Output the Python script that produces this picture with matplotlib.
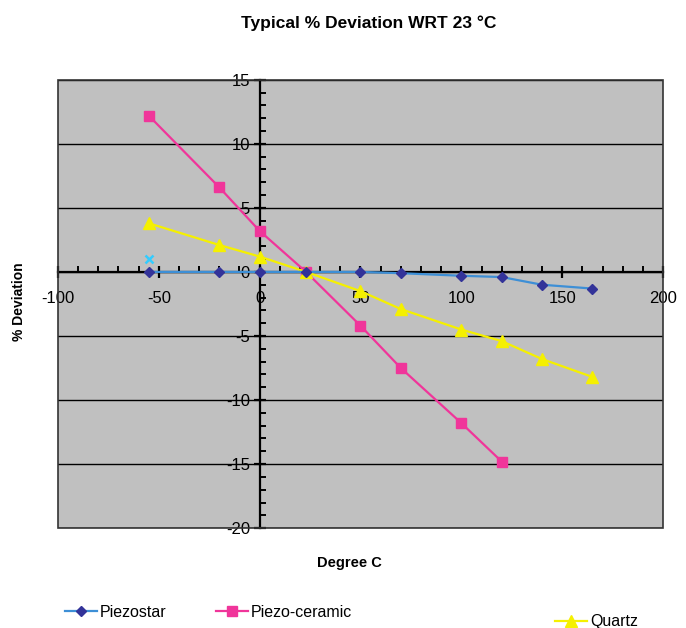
#!/usr/bin/env python3
import matplotlib
matplotlib.use("Agg")
import matplotlib.pyplot as plt
from matplotlib.patches import Rectangle
from matplotlib.ticker import MultipleLocator, FuncFormatter

plt.rcParams["font.family"] = ["Liberation Sans", "DejaVu Sans"]
plt.rcParams["axes.unicode_minus"] = False

# --------------------------------------------------------------------
# Data
# --------------------------------------------------------------------
TEMPS = [-55, -20, 0, 23, 50, 70, 100, 120, 140, 165]
PIEZOSTAR = [0.0, 0.0, 0.0, 0.0, 0.0, -0.1, -0.3, -0.4, -1.0, -1.3]

CERAMIC_TEMPS = [-55, -20, 0, 23, 50, 70, 100, 120]
PIEZO_CERAMIC = [12.2, 6.6, 3.2, 0.0, -4.2, -7.5, -11.8, -14.8]

QUARTZ = [3.8, 2.1, 1.2, 0.0, -1.5, -2.9, -4.5, -5.4, -6.8, -8.2]

STRAY_X = [-55]
STRAY_Y = [1.0]

# --------------------------------------------------------------------
# Plot
# --------------------------------------------------------------------
fig = plt.figure(figsize=(6.86, 6.28), dpi=100)
ax = fig.add_axes([0.0845, 0.159, 0.882, 0.714])
ax.set_facecolor("#C0C0C0")

ax.set_xlim(-100, 200)
ax.set_ylim(-20, 15)

for yv in range(-20, 16, 5):
    ax.axhline(yv, color="black", lw=1.0, zorder=1)

l1, = ax.plot(TEMPS, PIEZOSTAR, color="#3D8FD6", lw=1.6, marker="D",
              markersize=5, markerfacecolor="#333399", markeredgecolor="#333399",
              label="Piezostar", zorder=4)
l2, = ax.plot(CERAMIC_TEMPS, PIEZO_CERAMIC, color="#F0359A", lw=1.6, marker="s",
              markersize=7, markerfacecolor="#F0359A", markeredgecolor="#F0359A",
              label="Piezo-ceramic", zorder=3)
l3, = ax.plot(TEMPS, QUARTZ, color="#F5F000", lw=1.6, marker="^",
              markersize=8, markerfacecolor="#F5F000", markeredgecolor="#F5F000",
              label="Quartz", zorder=3)
ax.plot(STRAY_X, STRAY_Y, linestyle="none", marker="x", color="#33CCFF",
        markersize=6, mew=1.8, zorder=4)

# axes crossing at the origin
for side in ["top", "right"]:
    ax.spines[side].set_visible(False)
ax.spines["left"].set_position(("data", 0))
ax.spines["bottom"].set_position(("data", 0))
ax.spines["left"].set_linewidth(1.6)
ax.spines["bottom"].set_linewidth(1.6)
ax.spines["left"].set_zorder(2)
ax.spines["bottom"].set_zorder(2)

ax.xaxis.set_major_locator(MultipleLocator(50))
ax.xaxis.set_minor_locator(MultipleLocator(10))
ax.yaxis.set_major_locator(MultipleLocator(5))
ax.yaxis.set_minor_locator(MultipleLocator(1))
int_fmt = FuncFormatter(lambda v, pos: "%d" % round(v))
ax.xaxis.set_major_formatter(int_fmt)
ax.yaxis.set_major_formatter(int_fmt)
ax.tick_params(axis="both", which="major", direction="inout", length=8, width=1.6,
               labelsize=12)
ax.tick_params(axis="both", which="minor", direction="in", length=4, width=1.4)
ax.tick_params(axis="x", which="major", pad=10)
ax.tick_params(axis="y", which="major", pad=3)

ax.add_patch(Rectangle((0, 0), 1, 1, transform=ax.transAxes, fill=False,
                       edgecolor="#333333", lw=1.2, zorder=5, clip_on=False))

fig.text(0.538, 0.963, "Typical % Deviation WRT 23 °C", ha="center", va="center",
         fontsize=12.5, fontweight="bold")
fig.text(0.028, 0.52, "% Deviation", ha="center", va="center", rotation=90,
         fontsize=10, fontweight="bold")
fig.text(0.51, 0.103, "Degree C", ha="center", va="center",
         fontsize=10.5, fontweight="bold")

legend_kw = dict(frameon=False, fontsize=11.5, handlelength=2.0, handletextpad=0.2,
                 borderaxespad=0, loc="center left")
fig.legend(handles=[l1], bbox_to_anchor=(0.085, 0.025), **legend_kw)
fig.legend(handles=[l2], bbox_to_anchor=(0.305, 0.025), **legend_kw)
fig.legend(handles=[l3], bbox_to_anchor=(0.8, 0.01), **legend_kw)

fig.savefig("out.png", dpi=100)
